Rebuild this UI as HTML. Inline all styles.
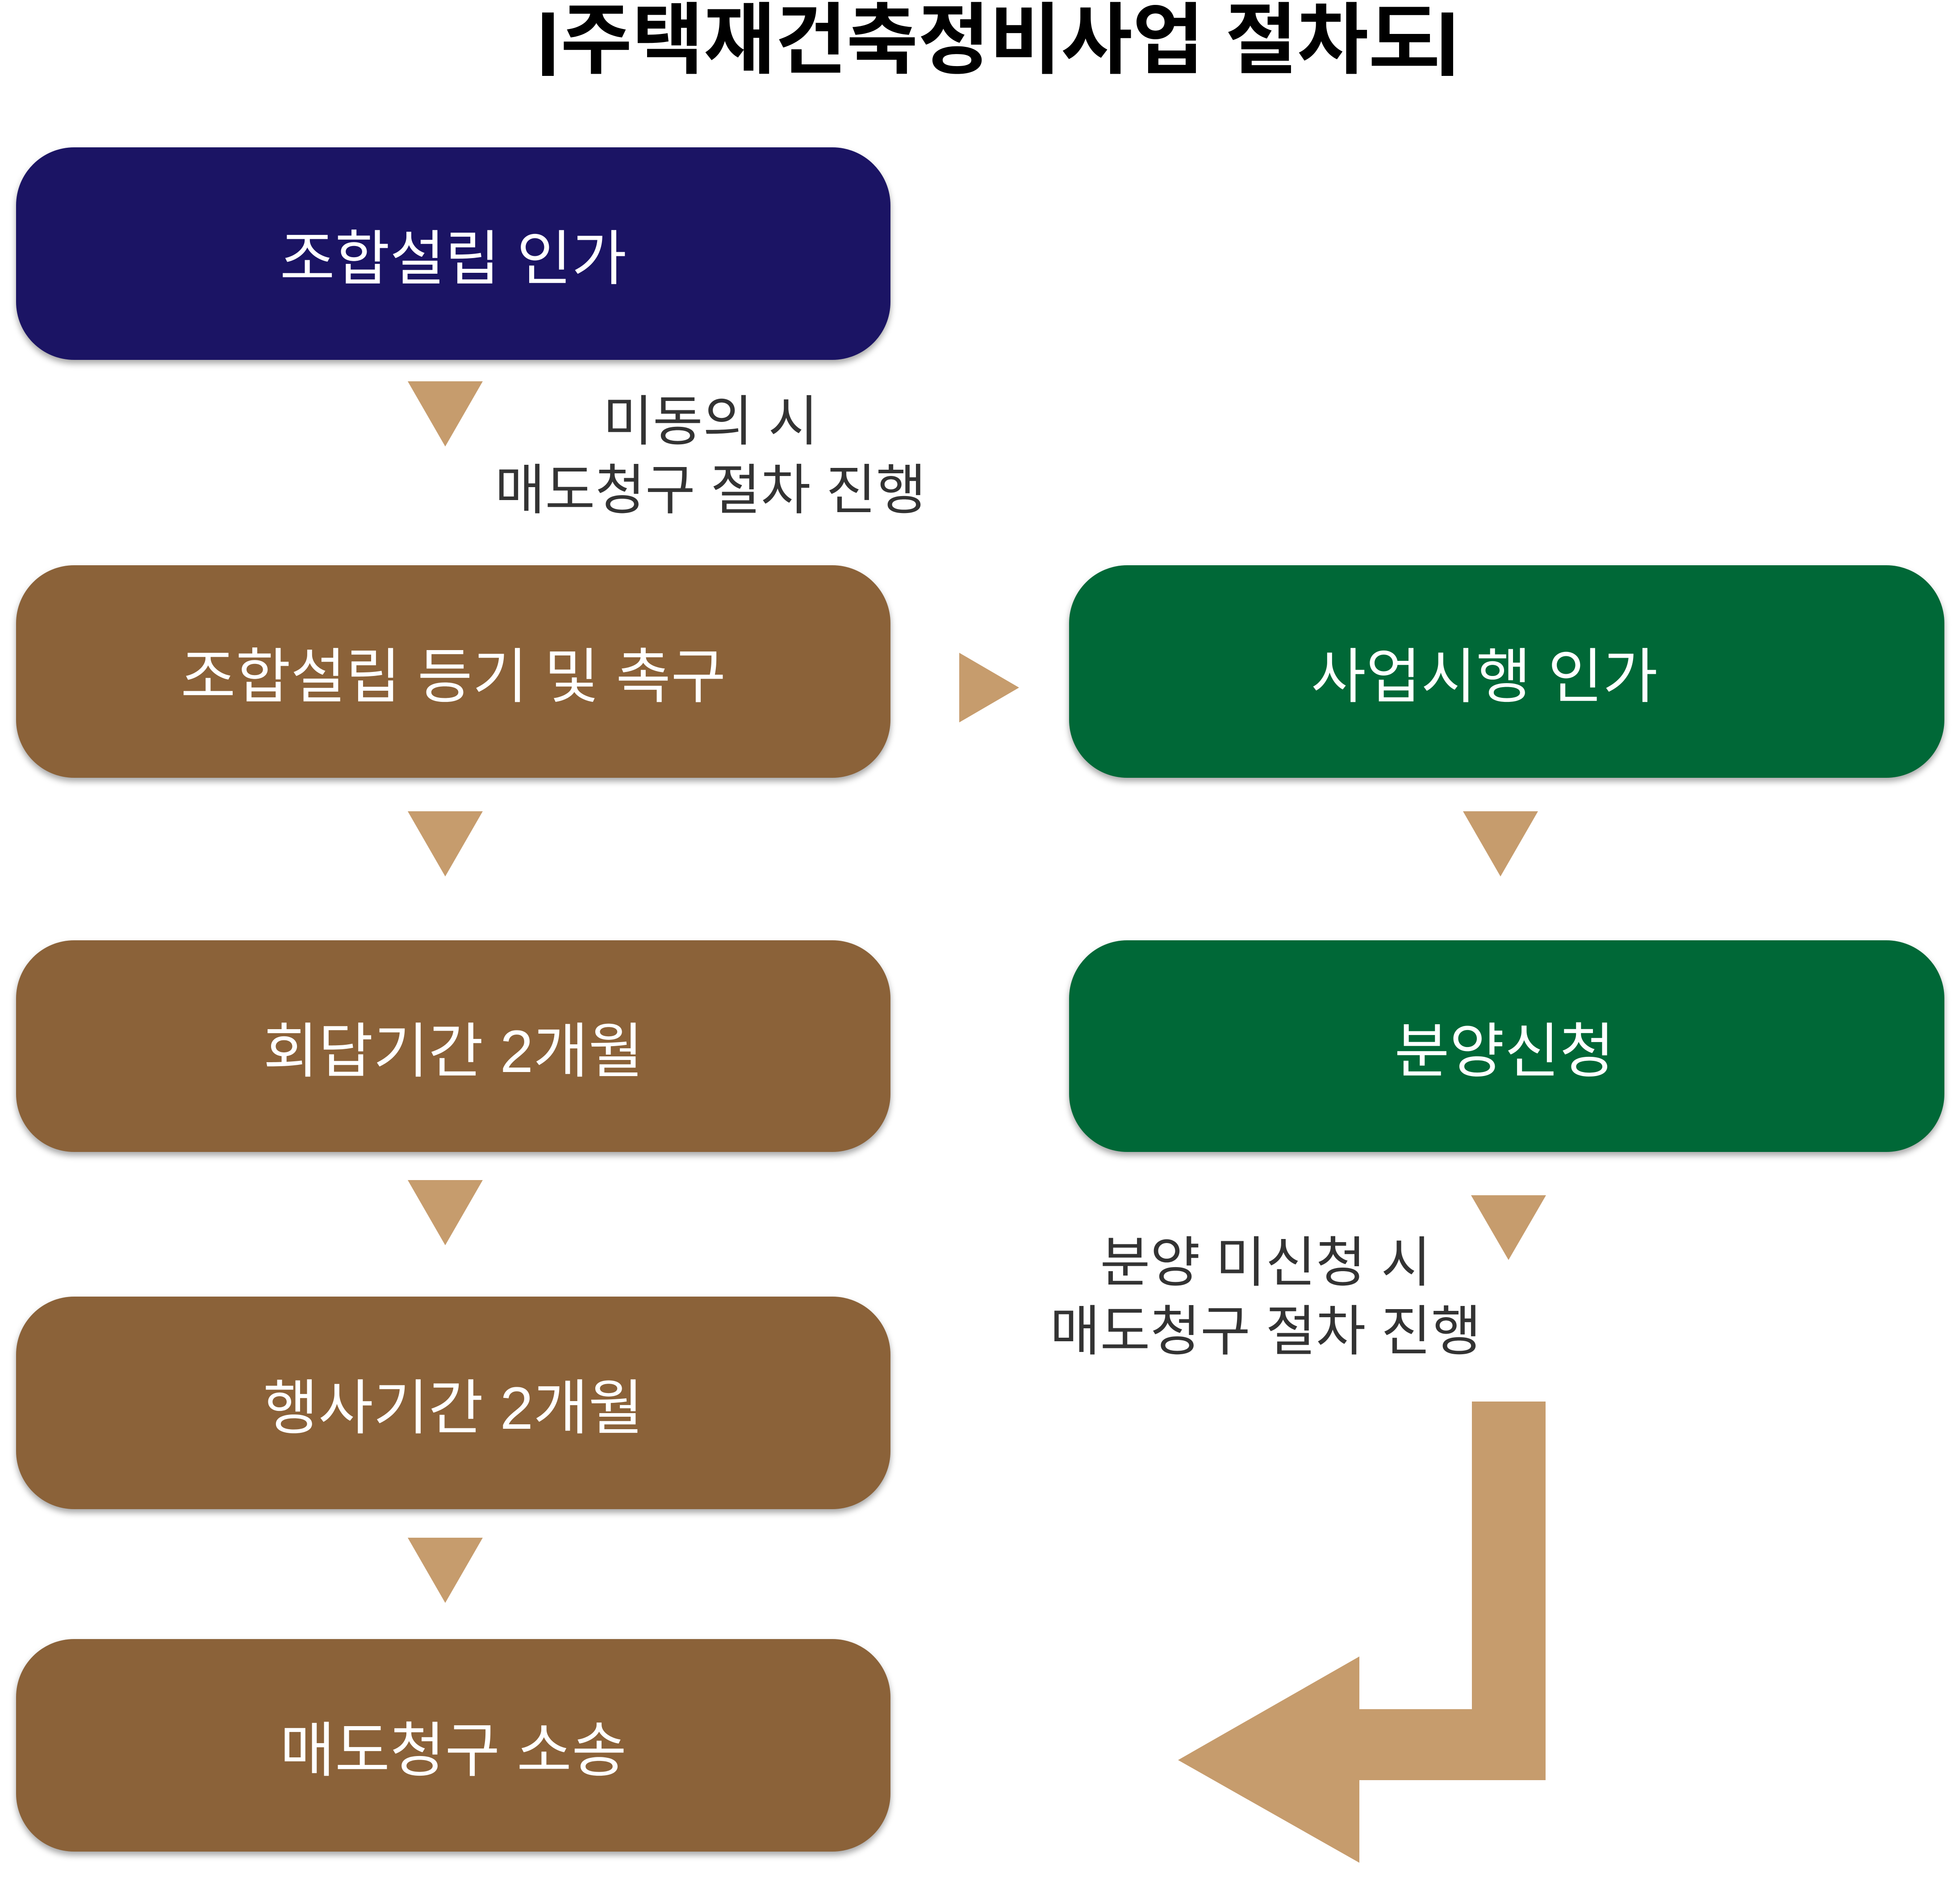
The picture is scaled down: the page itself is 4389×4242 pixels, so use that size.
<!DOCTYPE html>
<html><head><meta charset="utf-8"><style>
html,body{margin:0;padding:0;background:#fff;}
body{width:4389px;height:4242px;position:relative;overflow:hidden;font-family:"Liberation Sans","Noto Sans CJK KR",sans-serif;}
.box{position:absolute;border-radius:130px;color:#fff;font-size:134px;display:flex;align-items:center;justify-content:center;box-shadow:0 8px 14px rgba(0,0,0,0.35);white-space:nowrap;}
.n{background:#1b1464}.b{background:#8b6239}.g{background:#006837}
.t{position:absolute;color:#333;font-size:122px;text-align:center;line-height:154px;white-space:nowrap;}
svg{position:absolute;left:0;top:0}
</style></head><body>
<div style="position:absolute;left:1240px;width:2000px;top:0;text-align:center;font-size:174px;font-weight:bold;line-height:180px;color:#000;">주택재건축정비사업 절차도</div>
<div style="position:absolute;left:1214px;top:28px;width:26px;height:142px;background:#000"></div>
<div style="position:absolute;left:3228px;top:28px;width:26px;height:142px;background:#000"></div>

<div class="box n" style="left:36px;top:330px;width:1958px;height:476px">조합설립 인가</div>
<div class="box b" style="left:36px;top:1266px;width:1958px;height:476px">조합설립 등기 및 촉구</div>
<div class="box g" style="left:2394px;top:1266px;width:1960px;height:476px"><span style="margin-right:100px">사업시행 인가</span></div>
<div class="box b" style="left:36px;top:2106px;width:1958px;height:474px">회답기간 2개월</div>
<div class="box g" style="left:2394px;top:2106px;width:1960px;height:474px"><span style="margin-right:10px">분양신청</span></div>
<div class="box b" style="left:36px;top:2904px;width:1958px;height:476px">행사기간 2개월</div>
<div class="box b" style="left:36px;top:3671px;width:1958px;height:476px">매도청구 소송</div>

<div class="t" style="left:1091px;width:1000px;top:867px">미동의 시<br>매도청구 절차 진행</div>
<div class="t" style="left:2334px;width:1000px;top:2751px">분양 미신청 시<br>매도청구 절차 진행</div>

<svg width="4389" height="4242" viewBox="0 0 4389 4242">
<g fill="#c69c6d">
<polygon points="913,854 1081,854 997,1000"/>
<polygon points="913,1817 1081,1817 997,1963"/>
<polygon points="913,2643 1081,2643 997,2789"/>
<polygon points="913,3444 1081,3444 997,3590"/>
<polygon points="3276,1817 3444,1817 3360,1963"/>
<polygon points="3294,2677 3462,2677 3378,2822"/>
<polygon points="2148,1462 2282,1540 2148,1618"/>
<polygon points="3296,3139 3461,3139 3461,3987 3044,3987 3044,4172 2638,3942 3044,3710 3044,3828 3296,3828"/>
</g>
</svg>
</body></html>
